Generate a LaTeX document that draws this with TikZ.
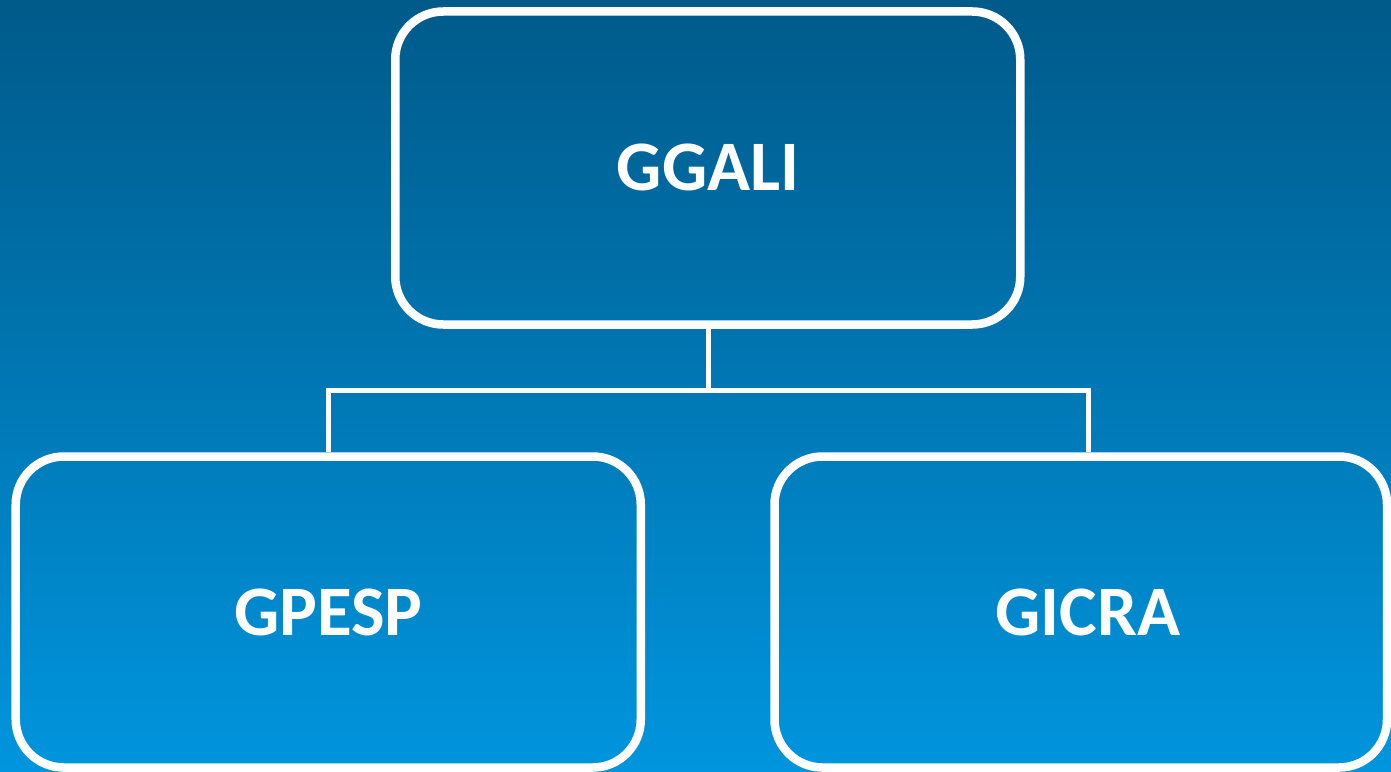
\documentclass[tikz,border=0pt]{standalone}
\usepackage{fontspec}
\setmainfont{Carlito}
\definecolor{bgtop}{HTML}{005A8A}
\definecolor{bgbottom}{HTML}{0095DE}
\begin{document}
\begin{tikzpicture}[x=1bp, y=-1bp,
  unitbox/.style={draw=white, line width=8.5bp, rounded corners=48bp,
    minimum width=625bp, minimum height=311bp, inner sep=0pt},
  unitlabel/.style={text=white, font=\fontsize{71bp}{80bp}\selectfont\bfseries, inner sep=0pt},
  link/.style={draw=white, line width=5bp, line join=miter}]
  % background
  \useasboundingbox (0,0) rectangle (1391,771);
  \shade[top color=bgtop, bottom color=bgbottom] (0,0) rectangle (1391,771);

  % boxes
  \node[unitbox, minimum height=313bp] (ggalibox) at (707.75,168) {};
  \node[unitbox] (gpespbox) at (328.25,612) {};
  \node[unitbox, minimum width=612.5bp] (gicrabox) at (1080.75,612) {};

  % labels
  \node[unitlabel] (ggali) at (708,167) {GGALI};
  \node[unitlabel] (gpesp) at (ggali |- gpespbox.center) [xshift=-379.5bp] {GPESP};
  \node[unitlabel] (gicra) at (1088,612) {GICRA};

  % connectors
  \coordinate (bus) at (708,390.5);
  \draw[link] (ggalibox.south -| ggali) -- (bus);
  \draw[link] (gpespbox.north) |- (bus) -| (gicra |- gicrabox.north);
\end{tikzpicture}
\end{document}
